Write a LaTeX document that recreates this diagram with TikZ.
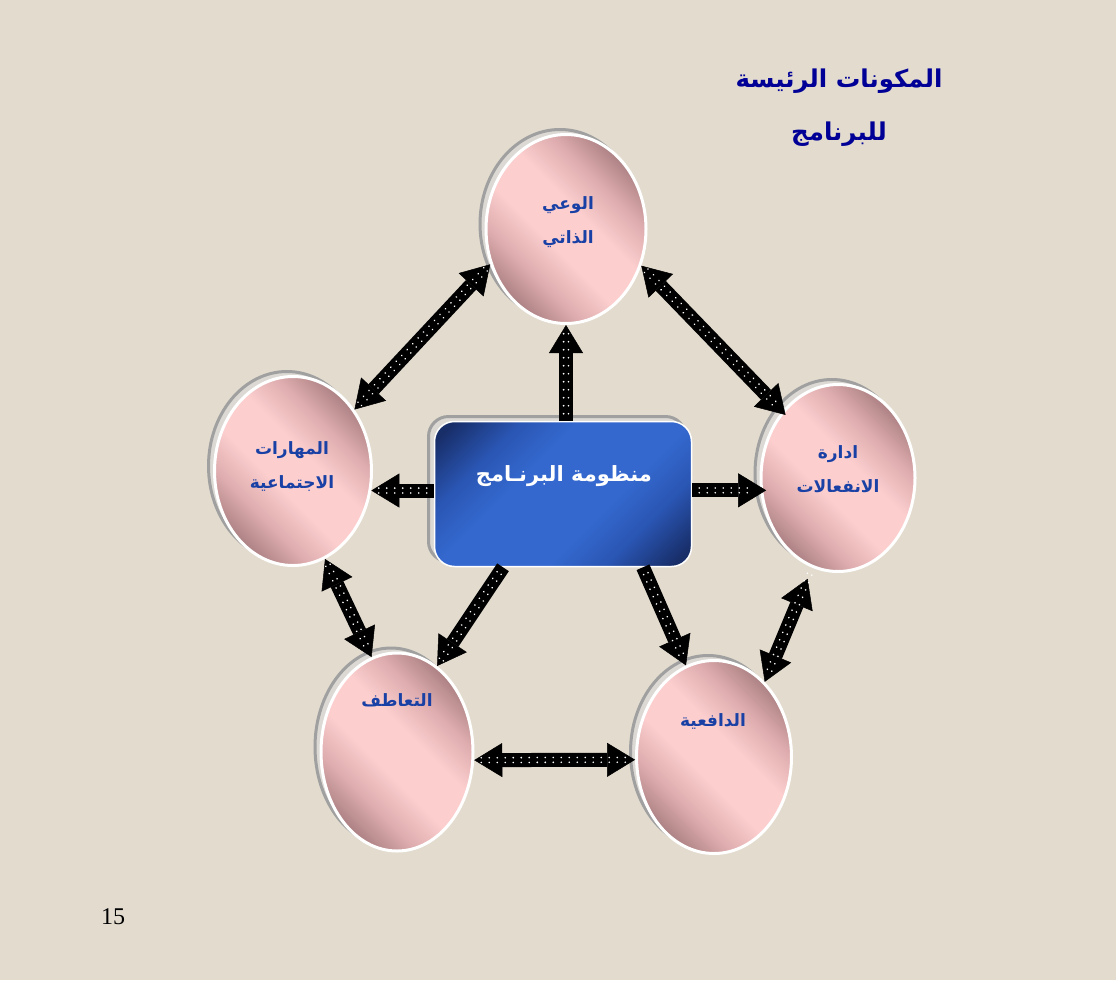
\documentclass[tikz,border=0pt]{standalone}
\usepackage{fontspec}
\setmainfont{Liberation Serif}
\newfontfamily\arabicfont[Script=Arabic]{DejaVu Sans}
\TeXXeTstate=1
\usetikzlibrary{shapes.geometric,arrows.meta,shadows,decorations.markings}

\definecolor{bg}{RGB}{226,219,206}
\definecolor{pinkdark}{RGB}{168,126,128}
\definecolor{pinkmid}{RGB}{222,172,174}
\definecolor{pinklight}{RGB}{252,206,206}
\definecolor{navy}{RGB}{24,46,105}
\definecolor{bluemid}{RGB}{42,86,180}
\definecolor{bluelight}{RGB}{52,104,206}
\definecolor{titleblue}{RGB}{0,0,150}
\definecolor{textblue}{RGB}{25,65,165}
\definecolor{shadowfill}{RGB}{220,217,212}
\definecolor{shadowline}{RGB}{160,160,160}

\pgfdeclarehorizontalshading{pinkdiag}{100bp}{color(0bp)=(pinkdark); color(24bp)=(pinkdark); color(34bp)=(pinkmid); color(44bp)=(pinklight); color(56bp)=(pinklight); color(66bp)=(pinkmid); color(76bp)=(pinkdark); color(100bp)=(pinkdark)}
\pgfdeclarehorizontalshading{bluediag}{100bp}{color(0bp)=(navy); color(18bp)=(navy); color(30bp)=(bluemid); color(40bp)=(bluelight); color(60bp)=(bluelight); color(70bp)=(bluemid); color(82bp)=(navy); color(100bp)=(navy)}

\tikzset{
  pinkell/.style={ellipse, inner sep=0pt, draw=white, line width=3pt,
    shading=pinkdiag, shading angle=45,
    general shadow={shadow xshift=-6pt, shadow yshift=5pt, fill=shadowfill, draw=shadowline, line width=3pt}},
  centerbox/.style={rectangle, rounded corners=20pt, inner sep=0pt, draw=white, line width=1.5pt,
    shading=bluediag, shading angle=-45, minimum width=257pt, minimum height=145pt,
    general shadow={shadow xshift=-6pt, shadow yshift=5pt, fill=shadowfill, draw=shadowline, line width=3pt}},
  fatarrow/.style={line width=14pt, draw=black, postaction={decorate},
    decoration={markings, mark=between positions 7pt and -7pt step 8pt with
      {\fill[white] (0pt,2.4pt) circle (0.9pt); \fill[white] (0pt,-2.4pt) circle (0.9pt);}}},
  both/.style={arrows={Triangle[width=34pt,length=28pt,line width=0.5pt]-Triangle[width=34pt,length=28pt,line width=0.5pt]}},
  single/.style={arrows={-Triangle[width=34pt,length=28pt,line width=0.5pt]}},
  elltext/.style={text=textblue, align=center, font=\arabicfont\bfseries\fontsize{17}{34}\selectfont},
  titletext/.style={text=titleblue, font=\arabicfont\bfseries\fontsize{24.5}{28}\selectfont},
  boxtext/.style={text=white, font=\arabicfont\bfseries\fontsize{21}{26}\selectfont}
}

\begin{document}
\begin{tikzpicture}[x=1pt,y=-1pt]
\useasboundingbox (0,0) rectangle (1116,980);
\fill[bg] (0,0) rectangle (1116,980);

% ellipses
\node[pinkell, minimum width=160pt, minimum height=189pt] (top) at (566,229) {};
\node[pinkell, minimum width=157pt, minimum height=189pt] (left) at (293,471) {};
\node[pinkell, minimum width=154pt, minimum height=187pt] (right) at (838,478) {};
\node[pinkell, minimum width=152pt, minimum height=198pt] (bl) at (397,752) {};
\node[pinkell, minimum width=155pt, minimum height=193pt] (br) at (714,757) {};

% central box
\node[centerbox] (rect) at (563,494) {};

% arrows
\draw[fatarrow, both] (top.205) -- (left.45);
\draw[fatarrow, both, shorten >=-5pt] (top.334) -- (right.130);
\draw[fatarrow, single] (rect.north -| top.south) -- (top.south);
\draw[fatarrow, single] (rect.west |- left.-14) -- (left.-14);
\draw[fatarrow, single, shorten >=-6pt] (rect.east |- right.189) -- (right.189);
\draw[fatarrow, single] ([xshift=-60pt]rect.south) -- (bl.65);
\draw[fatarrow, single] ([xshift=80pt]rect.south) -- (br.107);
\draw[fatarrow, both] (left.290) -- (bl.105);
\draw[fatarrow, both, shorten <=12pt] (right.254) -- (br.56);
\draw[fatarrow, both] (bl.-6) -- (br.182);

% texts
\node[elltext] (ttop) at (568,222) {\beginR الوعي\endR\\\beginR الذاتي\endR};
\node[elltext] (tleft) at (292,467) {\beginR المهارات\endR\\\beginR الاجتماعية\endR};
\node[elltext] (tright) at (838,469) {\beginR ادارة\endR\\\beginR الانفعالات\endR};
\node[elltext] (tbl) at (397,700) {\beginR التعاطف\endR};
\node[elltext] (tbr) at (713,721) {\beginR الدافعية\endR};
\node[boxtext] (tbox) at (564,476) {\beginR منظومة البرنـامج\endR};

\node[titletext, anchor=base] (title1) at (839,87) {\beginR المكونات الرئيسة\endR};
\node[titletext, anchor=base] (title2) at (839,140) {\beginR للبرنامج\endR};

\node[font=\fontsize{24}{28}\selectfont] (pnum) at (113,917) {15};
\end{tikzpicture}
\end{document}
